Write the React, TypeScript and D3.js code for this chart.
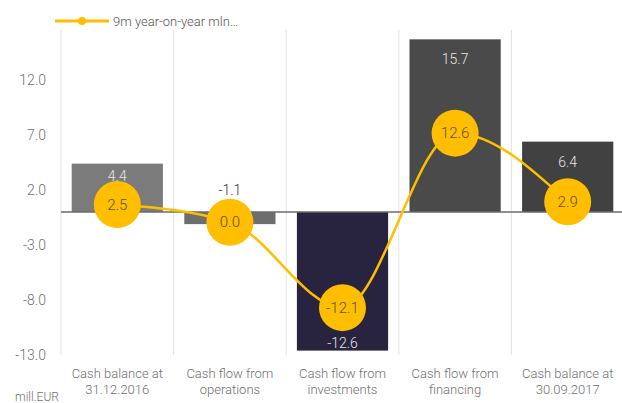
import React, { useEffect, useRef } from 'react';
import * as d3 from 'd3';

const categories = [
  'Cash balance at|31.12.2016',
  'Cash flow from|operations',
  'Cash flow from|investments',
  'Cash flow from|financing',
  'Cash balance at|30.09.2017',
];
const barValues = [4.4, -1.1, -12.6, 15.7, 6.4];
const lineValues = [2.5, 0.0, -12.1, 12.6, 2.9];
const yTicks = [-13, -8, -3, 2, 7, 12];
const legendLabel = '9m year-on-year mln…';
const unitLabel = 'mill.EUR';

const barColors = ['#7b7b7b', '#6e6e6e', '#28233f', '#4a4a4a', '#414141'];
const yellow = '#FFBE00';
const font = 'Roboto, "Open Sans", sans-serif';

const W = 622;
const H = 403;

export default function App() {
  const svgRef = useRef<SVGSVGElement | null>(null);

  useEffect(() => {
    document.body.style.margin = '0';
    if (!svgRef.current) return;
    const svg = d3.select(svgRef.current);
    svg.selectAll('*').remove();

    const top = 30;
    const bottom = 355;
    const left = 61;

    const x = d3.scaleBand<string>()
      .domain(categories)
      .range([left, 624])
      .paddingInner(0.19)
      .paddingOuter(0.095);
    const y = d3.scaleLinear().domain([-13, 16.55]).range([bottom, top]);
    // the line sits on its own (hidden) axis
    const y2 = d3.scaleLinear().domain([-18.8, 27.2]).range([bottom, top]);

    const step = x.step();
    const g = svg.append('g').style('font-family', font).style('font-weight', 300);

    // vertical gridlines between categories
    g.selectAll('line.grid')
      .data(d3.range(categories.length))
      .enter().append('line')
      .attr('x1', i => left + i * step)
      .attr('x2', i => left + i * step)
      .attr('y1', top)
      .attr('y2', bottom)
      .attr('stroke', '#e3e3e3')
      .attr('stroke-width', 1);

    // y tick labels
    g.selectAll('text.tick')
      .data(yTicks)
      .enter().append('text')
      .attr('x', 46)
      .attr('y', d => y(d))
      .attr('dy', '0.35em')
      .attr('text-anchor', 'end')
      .style('font-size', '14px')
      .style('fill', '#6f6f6f')
      .text(d => d.toFixed(1));

    // bars
    g.selectAll('rect.bar')
      .data(barValues)
      .enter().append('rect')
      .attr('x', (d, i) => x(categories[i])!)
      .attr('width', x.bandwidth())
      .attr('y', d => y(Math.max(0, d)))
      .attr('height', d => Math.abs(y(d) - y(0)))
      .attr('fill', (d, i) => barColors[i]);

    // zero line
    g.append('line')
      .attr('x1', left)
      .attr('x2', W)
      .attr('y1', y(0))
      .attr('y2', y(0))
      .attr('stroke', '#6b6b6b')
      .attr('stroke-width', 1.5);

    // bar labels
    g.selectAll('text.barlabel')
      .data(barValues)
      .enter().append('text')
      .attr('x', (d, i) => x(categories[i])! + x.bandwidth() / 2)
      .attr('y', d => {
        const h = Math.abs(y(d) - y(0));
        if (d >= 0) return y(d) + (h < 60 ? 12 : 20);
        if (h < 30) return y(0) - 22;
        return y(d) - 8;
      })
      .attr('dy', '0.35em')
      .attr('text-anchor', 'middle')
      .style('font-size', '14px')
      .style('fill', d => (d < 0 && Math.abs(y(d) - y(0)) < 30 ? '#333' : '#e6e6e6'))
      .text(d => d.toFixed(1));

    // line series
    const pts: [number, number][] = lineValues.map((v, i) => [
      x(categories[i])! + x.bandwidth() / 2,
      y2(v),
    ]);
    g.append('path')
      .attr('d', d3.line().curve(d3.curveMonotoneX)(pts))
      .attr('fill', 'none')
      .attr('stroke', yellow)
      .attr('stroke-width', 2.5);

    g.selectAll('circle.pt')
      .data(pts)
      .enter().append('circle')
      .attr('cx', d => d[0])
      .attr('cy', d => d[1])
      .attr('r', 23.5)
      .attr('fill', yellow);

    g.selectAll('text.ptlabel')
      .data(lineValues)
      .enter().append('text')
      .attr('x', (d, i) => pts[i][0])
      .attr('y', (d, i) => pts[i][1])
      .attr('dy', '0.35em')
      .attr('text-anchor', 'middle')
      .style('font-size', '15px')
      .style('fill', '#5e5236')
      .text(d => d.toFixed(1));

    // category labels
    categories.forEach(c => {
      const cx = x(c)! + x.bandwidth() / 2;
      c.split('|').forEach((line, j) => {
        g.append('text')
          .attr('x', cx)
          .attr('y', 378 + j * 16)
          .attr('text-anchor', 'middle')
          .style('font-size', '13px')
          .style('fill', '#6f6f6f')
          .text(line);
      });
    });

    // unit label
    g.append('text')
      .attr('x', 15)
      .attr('y', 401)
      .style('font-size', '12px')
      .style('fill', '#6f6f6f')
      .text(unitLabel);

    // legend
    const lg = g.append('g');
    lg.append('line')
      .attr('x1', 55).attr('x2', 109)
      .attr('y1', 21).attr('y2', 21)
      .attr('stroke', yellow)
      .attr('stroke-width', 3);
    lg.append('circle')
      .attr('cx', 82).attr('cy', 21).attr('r', 4)
      .attr('fill', yellow);
    lg.append('text')
      .attr('x', 113)
      .attr('y', 21)
      .attr('dy', '0.35em')
      .style('font-size', '13px')
      .style('fill', '#555')
      .text(legendLabel);
  }, []);

  return <svg ref={svgRef} width={W} height={H} style={{ display: 'block' }} />;
}
